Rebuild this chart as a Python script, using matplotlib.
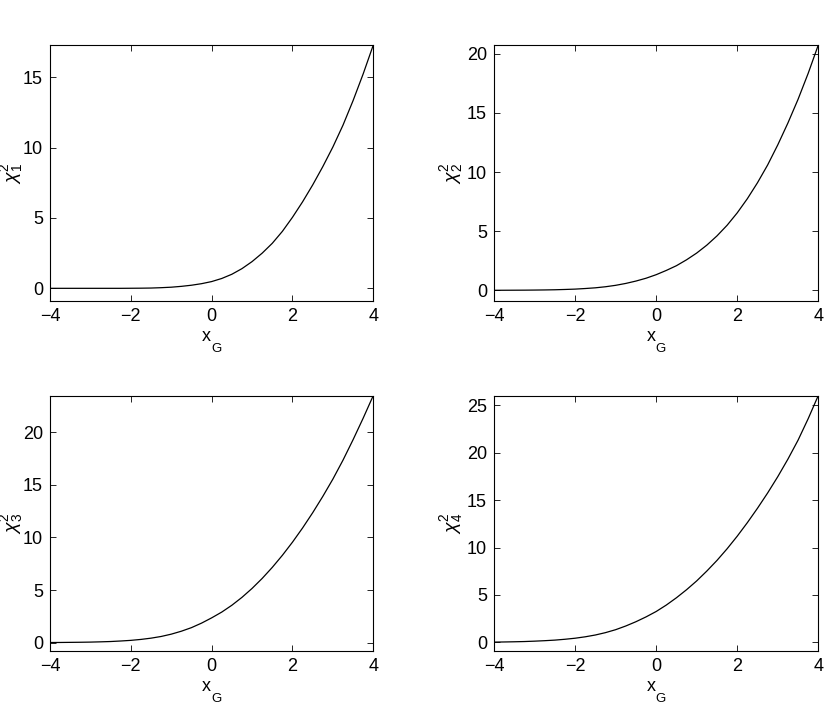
import matplotlib
matplotlib.use("Agg")
import matplotlib.pyplot as plt

plt.rcParams['font.family'] = ['Liberation Sans', 'DejaVu Sans']
plt.rcParams['mathtext.fontset'] = 'custom'
plt.rcParams['mathtext.rm'] = 'Liberation Sans'
plt.rcParams['mathtext.it'] = 'Liberation Sans:italic'
plt.rcParams['mathtext.bf'] = 'Liberation Sans:bold'

x_G = [-4, -3.75, -3.5, -3.25, -3, -2.75, -2.5, -2.25, -2, -1.75, -1.5, -1.25,
       -1, -0.75, -0.5, -0.25, 0, 0.25, 0.5, 0.75, 1, 1.25, 1.5, 1.75,
       2, 2.25, 2.5, 2.75, 3, 3.25, 3.5, 3.75, 4]

chi2_1 = [0, 0, 0, 0, 0, 0, 0, 0, 0.005, 0.01, 0.02, 0.045,
          0.08, 0.14, 0.22, 0.33, 0.48, 0.70, 1.0, 1.4, 1.9, 2.5, 3.2, 4.05,
          5.05, 6.15, 7.35, 8.65, 10.05, 11.6, 13.35, 15.25, 17.3]
chi2_2 = [0.0, 0.004, 0.008, 0.012, 0.02, 0.03, 0.045, 0.07, 0.10, 0.15, 0.21, 0.30,
          0.42, 0.58, 0.78, 1.02, 1.32, 1.68, 2.08, 2.58, 3.15, 3.82, 4.6, 5.5,
          6.55, 7.75, 9.1, 10.6, 12.3, 14.15, 16.15, 18.35, 20.75]
chi2_3 = [0.005, 0.01, 0.02, 0.03, 0.045, 0.07, 0.10, 0.15, 0.21, 0.30, 0.42, 0.58,
          0.80, 1.08, 1.42, 1.85, 2.35, 2.9, 3.55, 4.3, 5.15, 6.1, 7.15, 8.3,
          9.55, 10.9, 12.35, 13.9, 15.55, 17.35, 19.3, 21.35, 23.5]
chi2_4 = [0.02, 0.035, 0.055, 0.08, 0.12, 0.17, 0.23, 0.32, 0.43, 0.58, 0.77, 1.02,
          1.33, 1.72, 2.17, 2.68, 3.25, 3.93, 4.7, 5.55, 6.48, 7.52, 8.64, 9.87,
          11.2, 12.63, 14.15, 15.76, 17.48, 19.33, 21.33, 23.6, 26.05]

series = [chi2_1, chi2_2, chi2_3, chi2_4]
ylabels = [r'$\chi^2_1$', r'$\chi^2_2$', r'$\chi^2_3$', r'$\chi^2_4$']
yticks = [[0, 5, 10, 15], [0, 5, 10, 15, 20], [0, 5, 10, 15, 20], [0, 5, 10, 15, 20, 25]]
ybottoms = [-0.88, -0.88, -0.83, -0.95]
xticks = [-4, -2, 0, 2, 4]
xlabel_main = 'x'
xlabel_sub = 'G'

W, H = 830, 706
fig = plt.figure(figsize=(W / 100, H / 100), dpi=100)

boxes = [
    (50, 45, 373.3, 300.7),
    (494, 45, 818.3, 300.7),
    (50, 395.5, 373.3, 651.3),
    (494, 395.5, 818.3, 651.3),
]
ylabel_x = [-0.076, -0.088, -0.076, -0.088]

for i, (l, t, r, b) in enumerate(boxes):
    ax = fig.add_axes([l / W, 1 - b / H, (r - l) / W, (b - t) / H])
    ax.plot(x_G, series[i], color='black', lw=0.9)
    ax.set_xlim(-4, 4)
    ax.set_ylim(ybottoms[i], max(series[i]))
    ax.set_xticks(xticks)
    ax.set_yticks(yticks[i])
    ax.tick_params(direction='in', length=4, width=0.6, top=True, right=True,
                   labelsize=13, pad=5, colors='black')
    for s in ax.spines.values():
        s.set_linewidth(0.8)
        s.set_color('black')
    # x label "x" with a lowered subscript "G"
    ax.text(0.4847, -0.1564, xlabel_main, transform=ax.transAxes, fontsize=13,
            ha='center', va='baseline')
    ax.text(0.498, -0.1995, xlabel_sub, transform=ax.transAxes, fontsize=9.5,
            ha='left', va='baseline')
    ax.set_ylabel(ylabels[i], fontsize=14)
    ax.yaxis.set_label_coords(ylabel_x[i], 0.5)

fig.savefig('out.png', dpi=100)
